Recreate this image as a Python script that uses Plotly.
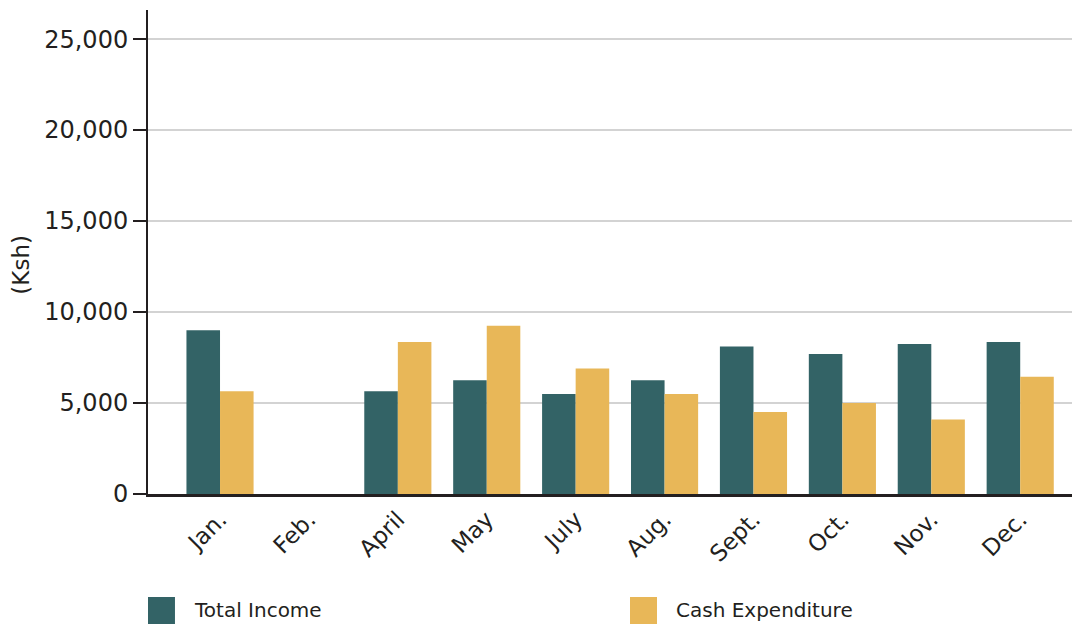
import plotly.graph_objects as go

months = ["Jan.", "Feb.", "April", "May", "July", "Aug.", "Sept.", "Oct.", "Nov.", "Dec."]
total_income = [9000, None, 5650, 6250, 5500, 6250, 8100, 7700, 8250, 8350]
cash_expenditure = [5650, None, 8350, 9250, 6900, 5500, 4500, 5000, 4100, 6450]
series_names = ["Total Income", "Cash Expenditure"]
y_ticks = [0, 5000, 10000, 15000, 20000, 25000]
y_tick_labels = ["0", "5,000", "10,000", "15,000", "20,000", "25,000"]

TEAL = "#336366"
GOLD = "#e8b758"
INK = "#231f20"
FONT = "DejaVu Sans"

fig = go.Figure()
fig.add_trace(go.Bar(x=months, y=total_income, name=series_names[0], marker_color=TEAL,
                     marker_line_width=0, showlegend=False))
fig.add_trace(go.Bar(x=months, y=cash_expenditure, name=series_names[1], marker_color=GOLD,
                     marker_line_width=0, showlegend=False))

# page has an 8px body margin, so the figure is sized 8px smaller
fig.update_layout(
    width=1072, height=616,
    margin=dict(l=140, r=2, t=2, b=130),
    plot_bgcolor="white", paper_bgcolor="white",
    barmode="group", bargap=0.245, bargroupgap=0,
    font=dict(family=FONT, color=INK),
)
fig.update_xaxes(
    type="category", range=[-0.81, 9.65],
    tickangle=-45, tickfont=dict(size=23, family=FONT, color=INK),
    showline=True, linecolor=INK, linewidth=2.5, ticks="", showgrid=False,
)
fig.update_yaxes(
    range=[0, 26600], tickvals=y_ticks, ticktext=y_tick_labels,
    tickfont=dict(size=24, family=FONT, color=INK),
    ticks="outside", ticklen=13, tickwidth=2, tickcolor=INK,
    showline=True, linecolor=INK, linewidth=2,
    showgrid=True, gridcolor="#d3d3d3", gridwidth=2,
    zeroline=False,
)

# y-axis title
fig.add_annotation(xref="paper", yref="paper", x=-0.137, y=0.473, text="(Ksh)",
                   textangle=-90, showarrow=False, xanchor="center", yanchor="middle",
                   font=dict(size=23, family=FONT, color=INK))

# custom legend
legend_items = [(series_names[0], TEAL, 0.0), (series_names[1], GOLD, 0.5183)]
for name, color, x0 in legend_items:
    fig.add_shape(type="rect", xref="paper", yref="paper",
                  x0=x0, x1=x0 + 0.029, y0=-0.2686, y1=-0.2128,
                  fillcolor=color, line_width=0)
    fig.add_annotation(xref="paper", yref="paper", x=x0 + 0.0473, y=-0.2397,
                       text=name, showarrow=False, xanchor="left", yanchor="middle",
                       font=dict(size=20, family=FONT, color=INK))

fig.write_html("out.html")
